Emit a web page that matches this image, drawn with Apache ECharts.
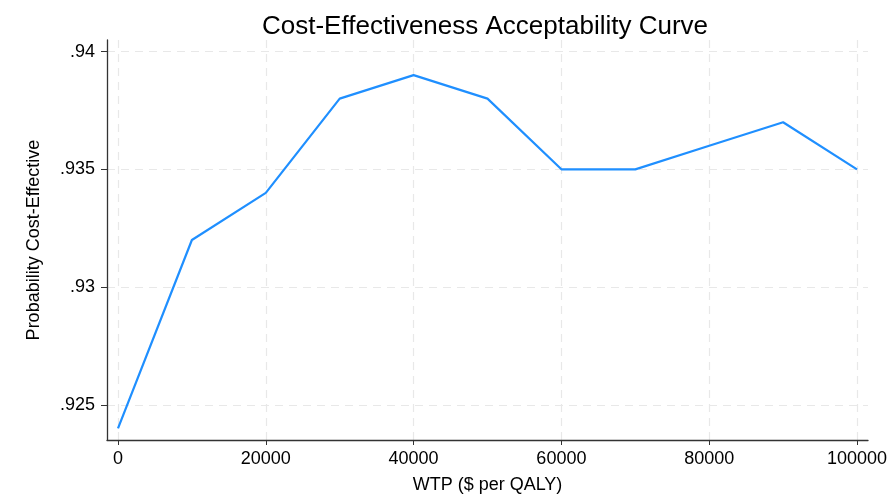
<!DOCTYPE html>
<html>
<head>
<meta charset="utf-8">
<script src="https://cdn.jsdelivr.net/npm/echarts@6/dist/echarts.min.js"></script>
<style>html,body{margin:0;padding:0;background:#fff}#c{width:895px;height:495px}</style>
</head>
<body>
<div id="c"></div>
<script>
const wtp = [0, 10000, 20000, 30000, 40000, 50000, 60000, 70000, 80000, 90000, 100000];
const prob = [0.924, 0.932, 0.934, 0.938, 0.939, 0.938, 0.935, 0.935, 0.936, 0.937, 0.935];
const xTicks = [0, 20000, 40000, 60000, 80000, 100000];
const yTicks = [0.925, 0.93, 0.935, 0.94];

const chart = echarts.init(document.getElementById('c'));
const font = 'Liberation Sans, Arial, Helvetica, sans-serif';
chart.setOption({
  animation: false,
  title: {
    text: 'Cost-Effectiveness Acceptability Curve',
    left: 480, top: 9, textAlign: 'center',
    textStyle: {fontFamily: font, fontSize: 26, fontWeight: 'normal', color: '#000'}
  },
  grid: {left: 107, right: 27, top: 40, bottom: 55, outerBoundsMode: 'none', containLabel: false},
  xAxis: {
    type: 'value', min: -1488, max: 101488,
    name: 'WTP ($ per QALY)', nameLocation: 'middle', nameGap: 36,
    nameTextStyle: {fontFamily: font, fontSize: 18, color: '#000'},
    axisLine: {show: true, onZero: false, lineStyle: {color: '#333', width: 1.3}},
    axisTick: {show: true, length: 5, customValues: xTicks, lineStyle: {color: '#333'}},
    axisLabel: {customValues: xTicks, margin: 10, fontFamily: font, fontSize: 18, color: '#000',
      formatter: v => String(v)},
    splitLine: {show: true, lineStyle: {color: '#e8e8e8', type: [8, 6], width: 1.2}}
  },
  yAxis: {
    type: 'value', min: 0.92351, max: 0.94049,
    name: 'Probability Cost-Effective', nameLocation: 'middle', nameGap: 64,
    nameTextStyle: {fontFamily: font, fontSize: 18, color: '#000'},
    axisLine: {show: true, onZero: false, lineStyle: {color: '#333', width: 1.3}},
    axisTick: {show: true, length: 6, customValues: yTicks, lineStyle: {color: '#333'}},
    axisLabel: {customValues: yTicks, margin: 12, fontFamily: font, fontSize: 18, color: '#000',
      formatter: v => String(+v.toFixed(4)).replace(/^0/, '')},
    splitLine: {show: true, lineStyle: {color: '#e8e8e8', type: [8, 6], width: 1.2}}
  },
  series: [{
    type: 'line',
    data: wtp.map((x, i) => [x, prob[i]]),
    showSymbol: false,
    lineStyle: {color: '#1f8fff', width: 2.2},
    itemStyle: {color: '#1f8fff'}
  }]
});
</script>
</body>
</html>
